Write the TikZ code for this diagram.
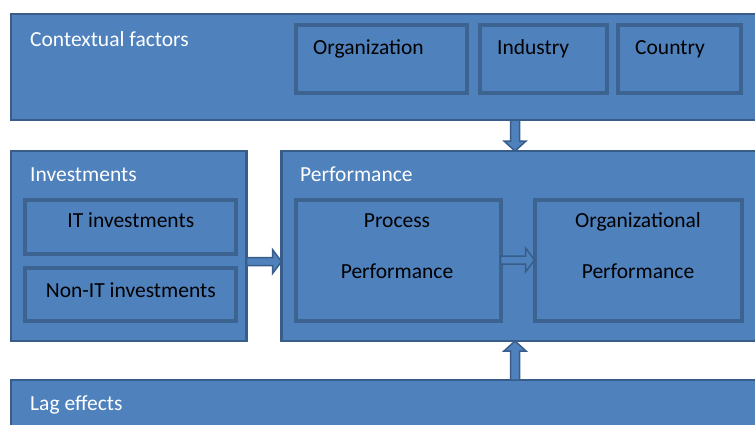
\documentclass[tikz,border=0pt]{standalone}
\usepackage{fontspec}
\setmainfont{Carlito}
\usetikzlibrary{calc}
\definecolor{fillc}{HTML}{4F81BD}
\definecolor{bdr}{HTML}{385D8A}
\definecolor{ibdr}{HTML}{3D6390}
\tikzset{
  obox/.style={draw=bdr, line width=2.5pt, fill=fillc, inner sep=0pt, outer sep=0pt, anchor=north west},
  ibox/.style={draw=ibdr, line width=4pt, fill=fillc, inner sep=0pt, outer sep=0pt, anchor=north west},
  wtxt/.style={text=white, inner sep=0pt, font=\fontsize{21.5}{25}\selectfont},
  btxt/.style={text=black, inner sep=0pt, font=\fontsize{21.5}{25}\selectfont},
  barrow/.style={draw=bdr, line width=1.5pt, fill=fillc, line join=miter},
}
% vertical block arrow: #1 start, #2 tip
\newcommand\vblockarrow[2]{%
  \draw[barrow] let \p1=(#1), \p2=(#2), \n1={sign(\y2-\y1)} in
    (\x1-4.5pt,\y1) -- (\x1-4.5pt,\y2-\n1*10pt) -- (\x1-11pt,\y2-\n1*10pt) -- (\x1,\y2)
    -- (\x1+11pt,\y2-\n1*10pt) -- (\x1+4.5pt,\y2-\n1*10pt) -- (\x1+4.5pt,\y1) -- cycle;}
% horizontal block arrow: #1 start, #2 tip
\newcommand\hblockarrow[2]{%
  \draw[barrow] let \p1=(#1), \p2=(#2) in
    (\x1,\y1-4pt) -- (\x2-9pt,\y1-4pt) -- (\x2-9pt,\y1-12pt) -- (\x2,\y1)
    -- (\x2-9pt,\y1+12pt) -- (\x2-9pt,\y1+4pt) -- (\x1,\y1+4pt) -- cycle;}
\begin{document}
\begin{tikzpicture}[x=1pt,y=-1pt]
\useasboundingbox (0,0) rectangle (755,424);
\clip (0,0) rectangle (755,424);
% boxes
\node[obox, minimum width=756pt, minimum height=106pt] (ctx) at (11,14) {};
\node[ibox, minimum width=171pt, minimum height=68pt] (org) at (296,25) {};
\node[ibox, minimum width=127pt, minimum height=68pt] (ind) at (480,25) {};
\node[ibox, minimum width=123pt, minimum height=68pt] (cty) at (618,25) {};

\node[obox, minimum width=235.5pt, minimum height=190pt] (inv) at (11,151) {};
\node[ibox, minimum width=211pt, minimum height=54.5pt] (itinv) at (25.3,199.5) {};
\node[ibox, minimum width=211pt, minimum height=52.5pt] (nonit) at (25.3,268) {};

\node[obox, minimum width=485pt, minimum height=190pt] (perf) at (281.5,151) {};
\node[ibox, minimum width=205pt, minimum height=121pt] (proc) at (295.5,199.5) {};
\node[ibox, minimum width=207.5pt, minimum height=121pt] (orgp) at (534.5,199.5) {};

\node[obox, minimum width=756pt, minimum height=70pt] (lag) at (11,380) {};

% texts
\node[wtxt, anchor=base west] (tctx) at (30,46) {Contextual factors};
\node[btxt, anchor=base west] (torg) at (313,54) {Organization};
\node[btxt, anchor=base west] (tind) at (497,54) {Industry};
\node[btxt, anchor=base west] (tcty) at (635,54) {Country};
\node[wtxt, anchor=base west] (tinv) at (30,181) {Investments};
\node[wtxt, anchor=base west] (tperf) at (300,181) {Performance};
\node[btxt, anchor=base] (titinv) at (itinv.center |- 0,227) {IT investments};
\node[btxt, anchor=base] (tnonit) at (nonit.center |- 0,297) {Non-IT investments};
\node[btxt, anchor=base] (tproc1) at (397,227) {Process};
\node[btxt, anchor=base] (tproc2) at (397,278) {Performance};
\node[btxt, anchor=base] (torgp1) at (638,227) {Organizational};
\node[btxt, anchor=base] (torgp2) at (638,278) {Performance};
\node[wtxt, anchor=base west] (tlag) at (30,410) {Lag effects};

% arrows
\coordinate (ax) at (515,0);
\coordinate (ay1) at (0,261.5);
\coordinate (ay2) at (0,260);
\vblockarrow{ctx.south -| ax}{perf.north -| ax}
\vblockarrow{lag.north -| ax}{perf.south -| ax}
\hblockarrow{inv.east |- ay1}{perf.west |- ay1}
\hblockarrow{proc.east |- ay2}{orgp.west |- ay2}
\end{tikzpicture}
\end{document}
